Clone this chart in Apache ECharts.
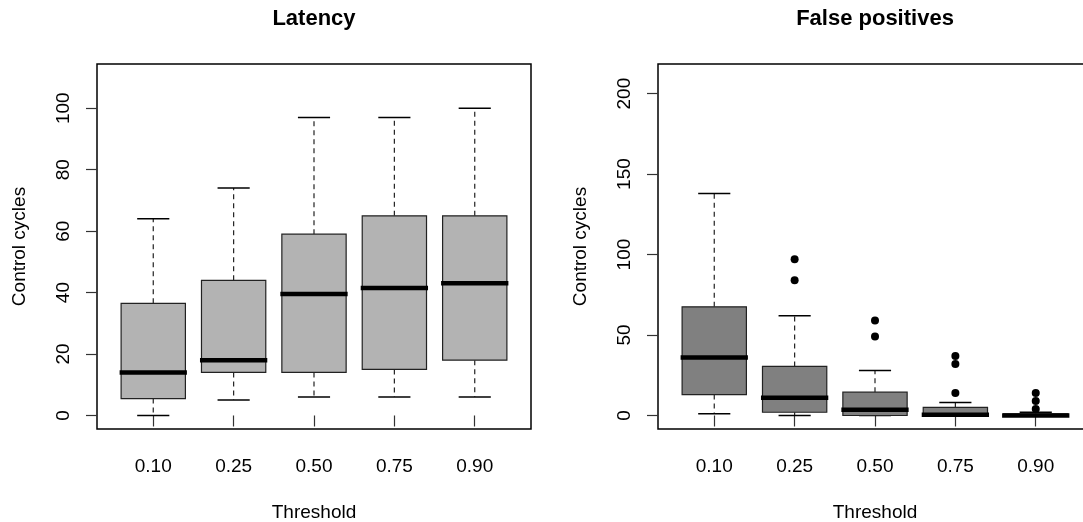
<!DOCTYPE html>
<html>
<head>
<meta charset="utf-8">
<title>Latency / False positives</title>
<script src="https://cdn.jsdelivr.net/npm/echarts@6/dist/echarts.min.js"></script>
<style>
  html, body { margin: 0; padding: 0; background: #fff; }
  #chart { width: 1083px; height: 522px; }
</style>
</head>
<body>
<div id="chart"></div>
<script>
// categories (threshold)
const thresholds = ["0.10", "0.25", "0.50", "0.75", "0.90"];

// Latency box stats
const latencyLow = [0, 5, 6, 6, 6];
const latencyQ1 = [5.5, 14, 14, 15, 18];
const latencyMedian = [14, 18, 39.5, 41.5, 43];
const latencyQ3 = [36.5, 44, 59, 65, 65];
const latencyHigh = [64, 74, 97, 97, 100];

// False positives box stats
const fpLow = [1, 0, 0, 0, 0];
const fpQ1 = [13, 2, 0, 0, 0];
const fpMedian = [36, 11, 3.5, 0.5, 0];
const fpQ3 = [67.5, 30.5, 14.5, 5, 1];
const fpHigh = [138, 62, 28, 8, 2];
const fpOutliers = [[], [97, 84], [59, 49], [37, 32, 14], [14, 9, 4]];

// tick labels
const latencyTicks = [0, 20, 40, 60, 80, 100];
const fpTicks = [0, 50, 100, 150, 200];

const font = "Liberation Sans, Arial, Helvetica, sans-serif";

function boxData(low, q1, med, q3, high) {
  return thresholds.map((t, i) => [i + 1, low[i], q1[i], med[i], q3[i], high[i]]);
}

function renderBox(fill) {
  return function (params, api) {
    const x = api.value(0);
    const pLo = api.coord([x, api.value(1)]);
    const pQ1 = api.coord([x, api.value(2)]);
    const pMed = api.coord([x, api.value(3)]);
    const pQ3 = api.coord([x, api.value(4)]);
    const pHi = api.coord([x, api.value(5)]);
    const w = api.size([0.8, 0])[0];
    const cx = pMed[0];
    const half = w / 2;
    const st = w / 4;
    const dash = { stroke: "#222", lineWidth: 1.2, lineDash: [5, 4] };
    const solid = { stroke: "#000", lineWidth: 1.5 };
    const kids = [];
    if (pHi[1] < pQ3[1]) kids.push({ type: "line", shape: { x1: cx, y1: pQ3[1], x2: cx, y2: pHi[1] }, style: dash });
    if (pLo[1] > pQ1[1]) kids.push({ type: "line", shape: { x1: cx, y1: pQ1[1], x2: cx, y2: pLo[1] }, style: dash });
    kids.push({ type: "line", shape: { x1: cx - st, y1: pHi[1], x2: cx + st, y2: pHi[1] }, style: solid });
    kids.push({ type: "line", shape: { x1: cx - st, y1: pLo[1], x2: cx + st, y2: pLo[1] }, style: solid });
    kids.push({
      type: "rect",
      shape: { x: cx - half, y: pQ3[1], width: w, height: pQ1[1] - pQ3[1] },
      style: { fill: fill, stroke: "#222", lineWidth: 1.2 }
    });
    kids.push({
      type: "line",
      shape: { x1: cx - half - 1.5, y1: pMed[1], x2: cx + half + 1.5, y2: pMed[1] },
      style: { stroke: "#000", lineWidth: 4.5 }
    });
    return { type: "group", children: kids };
  };
}

function xAxisFor(idx) {
  return {
    type: "value",
    gridIndex: idx,
    min: 0.3,
    max: 5.7,
    name: "Threshold",
    nameLocation: "middle",
    nameGap: 74,
    nameTextStyle: { fontSize: 19, color: "#000", fontFamily: font },
    axisLine: { show: false },
    splitLine: { show: false },
    axisTick: { show: true, length: 11, customValues: [1, 2, 3, 4, 5], lineStyle: { color: "#333", width: 1.2 } },
    axisLabel: {
      customValues: [1, 2, 3, 4, 5],
      formatter: v => thresholds[Math.round(v) - 1],
      fontSize: 19,
      color: "#000",
      fontFamily: font,
      margin: 28
    }
  };
}

function yAxisFor(idx, min, max, ticks) {
  return {
    type: "value",
    gridIndex: idx,
    min: min,
    max: max,
    name: "Control cycles",
    nameLocation: "middle",
    nameGap: 68,
    nameTextStyle: { fontSize: 19, color: "#000", fontFamily: font },
    axisLine: { show: false },
    splitLine: { show: false },
    axisTick: { show: true, length: 11, customValues: ticks, lineStyle: { color: "#333", width: 1.2 } },
    axisLabel: {
      customValues: ticks,
      rotate: 90,
      fontSize: 19,
      color: "#000",
      fontFamily: font,
      margin: 24
    }
  };
}

const outlierData = [];
fpOutliers.forEach((vals, i) => {
  vals.forEach(v => outlierData.push([i + 1, v]));
});

const myChart = echarts.init(document.getElementById("chart"));
const option = {
  animation: false,
  backgroundColor: "#fff",
  title: [
    {
      text: "Latency",
      left: 314,
      top: 8,
      padding: 0,
      textAlign: "center",
      textStyle: { fontSize: 22, fontWeight: "bold", color: "#000", fontFamily: font }
    },
    {
      text: "False positives",
      left: 875,
      top: 8,
      padding: 0,
      textAlign: "center",
      textStyle: { fontSize: 22, fontWeight: "bold", color: "#000", fontFamily: font }
    }
  ],
  grid: [
    // 边框 = R 的 box()
    { left: 97, top: 64, width: 434, height: 365, show: true, borderColor: "#000", borderWidth: 1.5, containLabel: false, outerBoundsMode: "none" },
    { left: 658, top: 64, width: 434, height: 365, show: true, borderColor: "#000", borderWidth: 1.5, containLabel: false, outerBoundsMode: "none" }
  ],
  xAxis: [xAxisFor(0), xAxisFor(1)],
  yAxis: [
    yAxisFor(0, -4.4, 114.4, latencyTicks),
    yAxisFor(1, -8.4, 218.4, fpTicks)
  ],
  series: [
    {
      name: "Latency",
      type: "custom",
      xAxisIndex: 0,
      yAxisIndex: 0,
      clip: true,
      renderItem: renderBox("#b3b3b3"),
      encode: { x: 0, y: [1, 2, 3, 4, 5] },
      data: boxData(latencyLow, latencyQ1, latencyMedian, latencyQ3, latencyHigh)
    },
    {
      name: "False positives",
      type: "custom",
      xAxisIndex: 1,
      yAxisIndex: 1,
      clip: true,
      renderItem: renderBox("#808080"),
      encode: { x: 0, y: [1, 2, 3, 4, 5] },
      data: boxData(fpLow, fpQ1, fpMedian, fpQ3, fpHigh)
    },
    {
      name: "Outliers",
      type: "scatter",
      xAxisIndex: 1,
      yAxisIndex: 1,
      symbol: "circle",
      symbolSize: 8,
      itemStyle: { color: "#000", opacity: 1 },
      data: outlierData
    }
  ]
};
myChart.setOption(option);
</script>
</body>
</html>
